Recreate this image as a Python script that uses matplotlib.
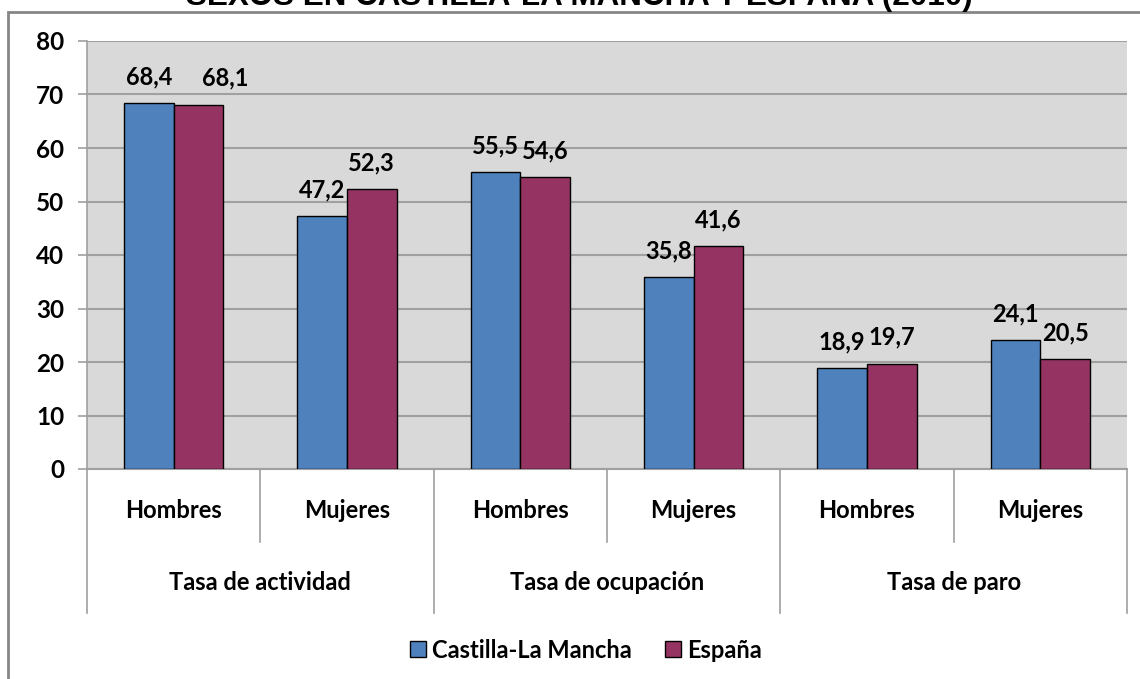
import matplotlib
matplotlib.use('Agg')
import matplotlib.pyplot as plt
import matplotlib.patches as patches
import numpy as np

BLUE = '#4F81BD'
PLUM = '#953462'
GRID = '#A0A0A0'
FONT = 'Lato'

groups = ['Tasa de actividad', 'Tasa de ocupación', 'Tasa de paro']
sexes = ['Hombres', 'Mujeres']
clm = [68.4, 47.2, 55.5, 35.8, 18.9, 24.1]
espana = [68.1, 52.3, 54.6, 41.6, 19.7, 20.5]
series_names = ['Castilla-La Mancha', 'España']
title = 'SEXOS EN CASTILLA-LA MANCHA Y ESPAÑA (2010)'

W, H = 1140, 679
fig = plt.figure(figsize=(W / 100, H / 100), dpi=100)

# outer chart border (partly cut off in the original)
border = patches.Rectangle((8 / W, -0.2), 1.5, 1 - 11.5 / H + 0.2, transform=fig.transFigure,
                           fill=False, edgecolor='#868686', linewidth=2, clip_on=False)
fig.patches.append(border)

# only the bottom of the title's second line shows in the original
fig.text(0.508, 1 - 5 / H, title, ha='center', va='baseline',
         fontsize=22.6, fontweight='bold', family='Liberation Sans')

ax = fig.add_axes([87 / W, 1 - 469 / H, (1127 - 87) / W, (469 - 41) / H])
ax.set_facecolor('#D9D9D9')

n = len(clm)
x = np.arange(n) + 0.5
width = 0.286
b1 = ax.bar(x - width / 2, clm, width, color=BLUE, edgecolor='black', linewidth=1,
            label=series_names[0], zorder=3)
b2 = ax.bar(x + width / 2, espana, width, color=PLUM, edgecolor='black', linewidth=1,
            label=series_names[1], zorder=3)

# one label was dragged sideways in the original chart
nudge = {(1, 0): 19}
for s, (bars, vals) in enumerate(((b1, clm), (b2, espana))):
    for i, (rect, v) in enumerate(zip(bars, vals)):
        ax.annotate(f'{v:.1f}'.replace('.', ','),
                    (rect.get_x() + rect.get_width() / 2, v),
                    xytext=(nudge.get((s, i), 0), 13.5), textcoords='offset points',
                    ha='center', va='baseline', fontsize=17,
                    fontweight='bold', family=FONT)

ax.set_xlim(0, n)
ax.set_ylim(0, 80)
ax.set_yticks(np.arange(0, 81, 10))
ax.yaxis.grid(True, color=GRID, linewidth=1.5, zorder=0)
ax.set_axisbelow(True)
ax.tick_params(axis='y', length=6.5, width=1.2, color=GRID, pad=10)
for lab in ax.get_yticklabels():
    lab.set_fontsize(17.5)
    lab.set_fontweight('bold')
    lab.set_family(FONT)
ax.set_xticks([])
for s in ('top', 'right'):
    ax.spines[s].set_visible(False)
ax.spines['left'].set_color(GRID)
ax.spines['bottom'].set_color(GRID)
ax.spines['left'].set_linewidth(1.2)
ax.spines['bottom'].set_linewidth(1.5)

# two-level category axis
tr = ax.get_xaxis_transform()
short_y = (469 - 542) / 428
long_y = (469 - 613) / 428
for i in range(n + 1):
    y_end = long_y if i % 2 == 0 else short_y
    ax.plot([i, i], [0, y_end], color=GRID, linewidth=1.2, transform=tr, clip_on=False)
for i in range(n):
    ax.text(i + 0.5, (469 - 511) / 428, sexes[i % 2], transform=tr, ha='center', va='center',
            fontsize=17, fontweight='bold', family=FONT)
for g, name in enumerate(groups):
    ax.text(2 * g + 1, (469 - 582) / 428, name, transform=tr, ha='center', va='center',
            fontsize=17, fontweight='bold', family=FONT)

fig.legend(handles=[b1, b2], labels=series_names, loc='center',
           bbox_to_anchor=(586 / W, 1 - 650 / H), ncol=2, frameon=False,
           handlelength=0.68, handleheight=0.68, handletextpad=0.25, columnspacing=1.4,
           prop={'family': FONT, 'weight': 'bold', 'size': 17})

fig.savefig('out.png', dpi=100)
